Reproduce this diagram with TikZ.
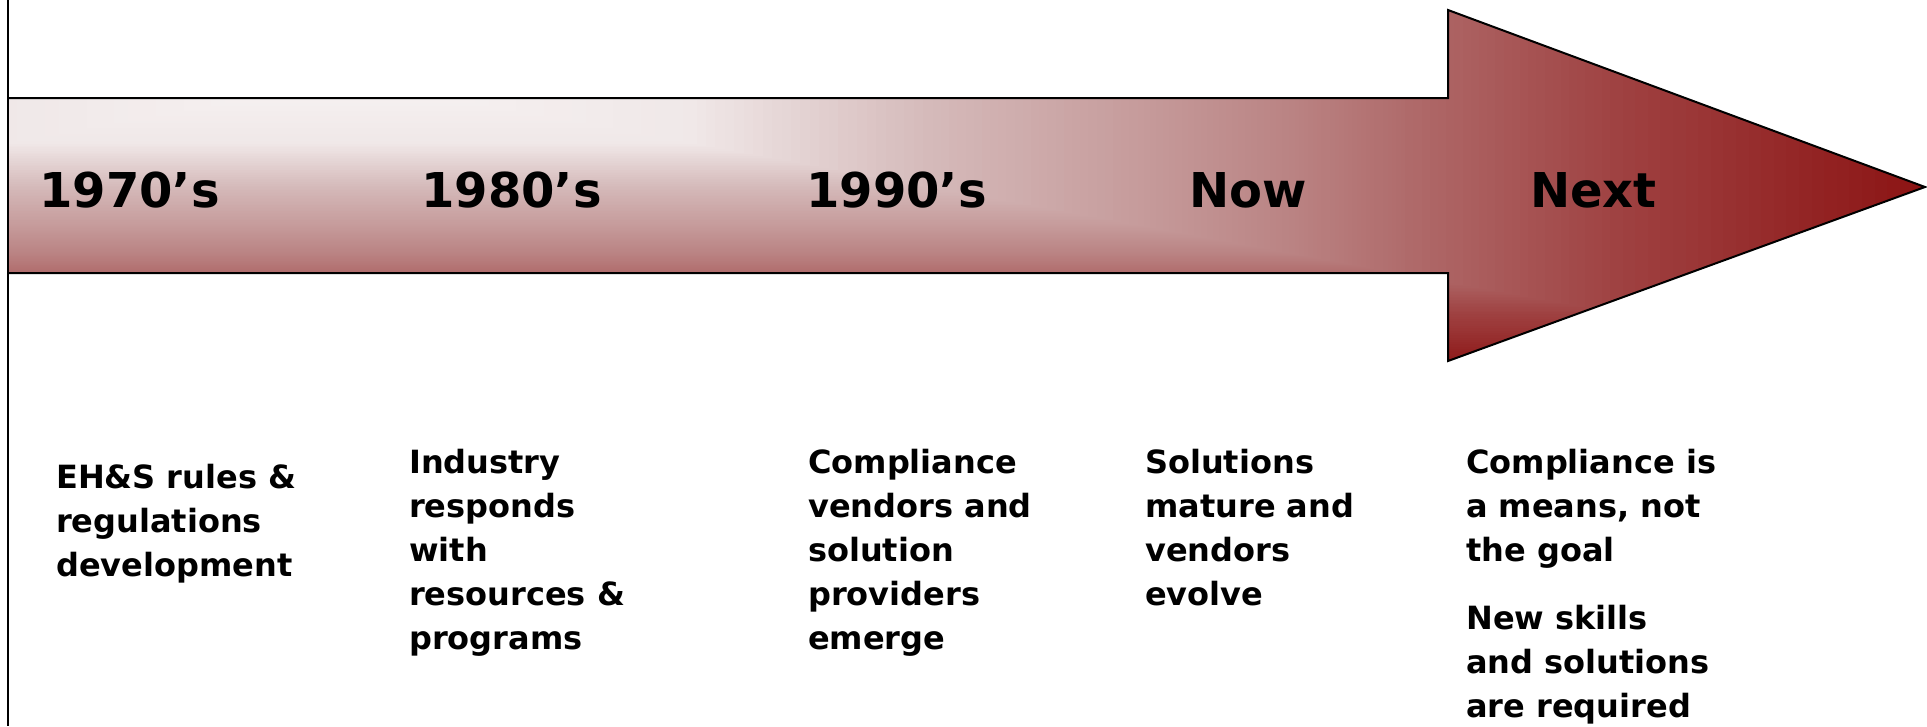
\documentclass[tikz,border=0pt]{standalone}
\usepackage{fontspec}
\setmainfont{DejaVu Sans}
\definecolor{s0}{RGB}{247,243,243}
\definecolor{s22}{RGB}{240,232,232}
\definecolor{s37}{RGB}{213,186,186}
\definecolor{s50}{RGB}{198,156,156}
\definecolor{s60}{RGB}{186,131,131}
\definecolor{s67}{RGB}{176,108,108}
\definecolor{s80}{RGB}{160,68,68}
\definecolor{s100}{RGB}{140,20,20}
\tikzset{
  yearlbl/.style={anchor=base west, inner sep=0pt, font=\fontsize{48}{56}\selectfont\bfseries, text=black},
  desclbl/.style={anchor=base west, inner sep=0pt, font=\fontsize{32}{44}\selectfont\bfseries, text=black},
  outline/.style={draw=black, line width=2pt, line join=miter},
}
\begin{document}
\begin{tikzpicture}[x=1pt,y=-1pt]
\useasboundingbox (0,0) rectangle (1927,726);
\fill[white] (0,0) rectangle (1927,726);
\def\cx{350}\def\cy{80}\def\ax{1575}\def\by{290}
\begin{scope}
  \clip (8,98) -- (1448,98) -- (1448,10) -- (1925,187) -- (1448,361) -- (1448,273) -- (8,273) -- cycle;
  \fill[s100] (0,0) rectangle (1927,726);
  \foreach \dhi/\dlo/\chi/\clo in {1.0/0.8/s100/s80, 0.8/0.67/s80/s67, 0.67/0.6/s67/s60, 0.6/0.5/s60/s50, 0.5/0.37/s50/s37, 0.37/0.22/s37/s22, 0.22/0.0/s22/s0} {
    \foreach \k in {0,...,24} {
      \pgfmathsetmacro\dd{\dhi-(\dhi-\dlo)*\k/25}
      \pgfmathtruncatemacro\pp{4*\k}
      \colorlet{cc}{\clo!\pp!\chi}
      \fill[cc] ({\cx-\ax*\dd},{\cy-\by*\dd}) rectangle ({\cx+\ax*\dd},{\cy+\by*\dd});
    }
  }
\end{scope}
\draw[outline] (8,98) -- (1448,98) -- (1448,10) -- (1925,187) -- (1448,361) -- (1448,273) -- (8,273);
\draw[draw=black, line width=2pt] (8,0) -- (8,726);

\node[yearlbl] (t1) at (39,207) {1970’s};
\node[yearlbl] (t2) at (421,207) {1980’s};
\node[yearlbl] (t3) at (806,207) {1990’s};
\node[yearlbl] (t4) at (1189,207) {Now};
\node[yearlbl] (t5) at (1530,207) {Next};

\node[desclbl] (d1) at (56,488) {\parbox[t]{320pt}{\raggedright EH\&S rules \&\\regulations\\development}};
\node[desclbl] (d2) at (409,473) {\parbox[t]{320pt}{\raggedright Industry\\responds\\with\\resources \&\\programs}};
\node[desclbl] (d3) at (808,473) {\parbox[t]{320pt}{\raggedright Compliance\\vendors and\\solution\\providers\\emerge}};
\node[desclbl] (d4) at (1145,473) {\parbox[t]{320pt}{\raggedright Solutions\\mature and\\vendors\\evolve}};
\node[desclbl] (d5) at (1466,473) {\parbox[t]{320pt}{\raggedright Compliance is\\a means, not\\the goal\\[24pt]New skills\\and solutions\\are required}};
\end{tikzpicture}
\end{document}
